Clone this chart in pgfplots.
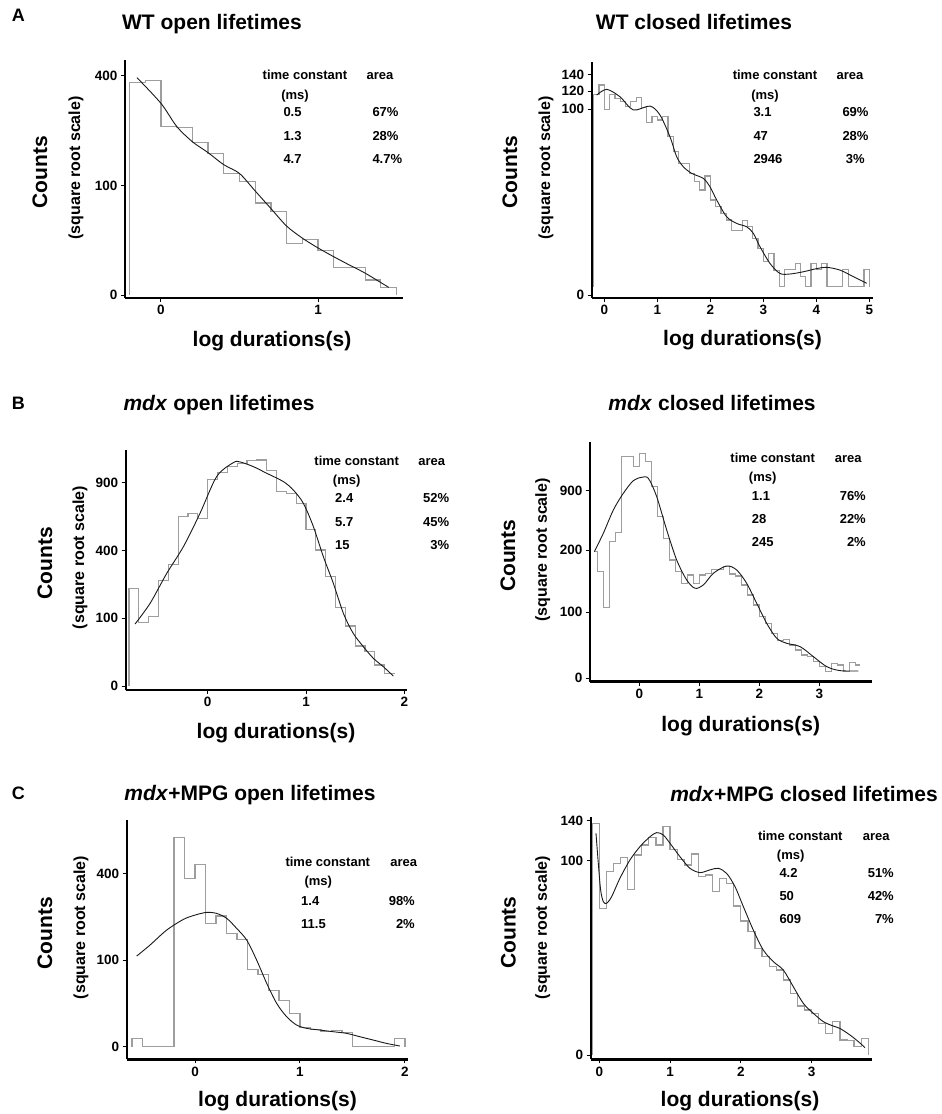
\documentclass[border=0pt]{standalone}
\usepackage{fontspec}
\setmainfont{Liberation Sans}
\usepackage{pgfplots}
\pgfplotsset{compat=1.18}

\pgfplotsset{
  panel/.style={
    scale only axis, anchor=south west, clip=false,
    axis lines*=left,
    axis line style={-, black},
    x axis line style={line width=2.8pt},
    y axis line style={line width=1.6pt},
    tick align=outside, major tick length=4pt,
    tick style={black, line width=1pt},
    tick label style={font=\fontsize{13.5}{15}\selectfont\bfseries},
    scaled ticks=false,
  },
  hist/.style={const plot, black!38, line width=1.2pt, no markers},
  fit/.style={smooth, black!90, line width=0.9pt, no markers},
}
\tikzset{
  ttl/.style={font=\fontsize{21}{25}\selectfont\bfseries, anchor=base, inner sep=0},
  lbl/.style={font=\fontsize{18}{22}\selectfont\bfseries, anchor=base west, inner sep=0},
  cnt/.style={font=\fontsize{21}{25}\selectfont\bfseries, rotate=90, inner sep=0},
  sq/.style={font=\fontsize{16}{19}\selectfont\bfseries, rotate=90, inner sep=0},
  tb/.style={font=\fontsize{13}{15}\selectfont\bfseries, inner sep=0},
}

\begin{document}
\begin{tikzpicture}
\path[use as bounding box] (0pt,0pt) rectangle (942pt,-1114pt);

% ---------- A: WT open
\begin{axis}[panel, at={(125pt,-298pt)}, width=278pt, height=238pt,
  xmin=-0.229, xmax=1.541, ymin=-0.27, ymax=21.46,
  xtick={0,1}, xticklabels={0,1},
  ytick={0,10,20}, yticklabels={0,100,400}]
\addplot[hist] coordinates {(-0.2,0) (-0.2,19.4) (-0.1,19.6) (0,15.4) (0.1,15.3)
  (0.2,13.9) (0.3,12.95) (0.4,11.1) (0.5,10.35) (0.6,8.4) (0.7,7.6) (0.8,4.7)
  (0.9,5.1) (1.0,4.1) (1.1,2.55) (1.2,2.55) (1.3,1.37) (1.4,0.7) (1.5,0.7) (1.5,0)};
\addplot[fit] coordinates {(-0.153,19.85) (0,17.5) (0.1,15.4) (0.2,14.0) (0.3,13.0)
  (0.4,11.9) (0.5,11.1) (0.6,9.5) (0.7,7.9) (0.8,6.3) (0.9,5.2) (1.0,4.3)
  (1.1,3.5) (1.2,2.74) (1.3,2.0) (1.45,0.7)};
\end{axis}

% ---------- A: WT closed
\begin{axis}[panel, at={(591.7pt,-298pt)}, width=281.3pt, height=236pt,
  xmin=-0.238, xmax=5.07, ymin=-0.16, ymax=12.53,
  xtick={0,1,2,3,4,5}, xticklabels={0,1,2,3,4,5},
  ytick={0,10,10.954,11.832}, yticklabels={0,100,120,140}]
\addplot[hist] coordinates {(-0.2,0.45) (-0.2,10.79) (-0.1,11.29) (0,9.98) (0.1,10.79)
  (0.2,10.57) (0.3,10.39) (0.4,10.13) (0.5,10.39) (0.6,10.63) (0.7,10.09) (0.8,9.27)
  (0.9,9.59) (1.0,9.41) (1.1,9.62) (1.2,8.51) (1.3,7.71) (1.4,7.08) (1.5,7.08)
  (1.6,6.54) (1.7,6.09) (1.8,5.65) (1.9,6.40) (2.0,5.11) (2.1,4.75) (2.2,4.39)
  (2.3,4.03) (2.4,3.49) (2.5,3.49) (2.6,4.0) (2.7,3.67) (2.8,3.05) (2.9,2.51)
  (3.0,1.79) (3.1,2.24) (3.2,1.34) (3.3,0.48) (3.4,1.38) (3.5,1.38) (3.6,1.70)
  (3.7,0.99) (3.8,0.45) (3.9,1.70) (4.0,1.38) (4.1,1.70) (4.2,0.48) (4.3,0.48)
  (4.4,0.48) (4.5,1.38) (4.6,0.48) (4.7,0.48) (4.8,0.48) (4.9,1.38) (5.0,1.38) (5.0,0.45)};
\addplot[fit] coordinates {(-0.145,10.75) (0.044,11.06) (0.296,10.66) (0.547,9.95)
  (0.862,10.16) (1.05,9.68) (1.239,8.51) (1.365,7.44) (1.49,6.90) (1.65,6.54)
  (1.868,6.27) (1.994,5.82) (2.12,5.11) (2.308,4.21) (2.497,3.85) (2.686,3.67)
  (2.811,3.32) (2.937,2.60) (3.126,1.70) (3.314,1.16) (3.503,1.13) (3.755,1.25)
  (4.006,1.42) (4.195,1.49) (4.447,1.34) (4.698,0.99) (4.95,0.63)};
\end{axis}

% ---------- B: mdx open
\begin{axis}[panel, at={(125.7pt,-690pt)}, width=281pt, height=240pt,
  xmin=-0.834, xmax=2.024, ymin=-0.59, ymax=34.8,
  xtick={0,1,2}, xticklabels={0,1,2},
  ytick={0,10,20,30}, yticklabels={0,100,400,900}]
\addplot[hist] coordinates {(-0.8,0) (-0.8,14.4) (-0.7,9.34) (-0.6,10.23) (-0.5,15.54)
  (-0.4,17.94) (-0.3,24.98) (-0.2,25.47) (-0.1,24.73) (0,30.48) (0.1,31.46)
  (0.2,32.35) (0.3,32.84) (0.4,33.24) (0.5,33.33) (0.6,31.76) (0.7,28.66)
  (0.8,28.42) (0.9,26.94) (1.0,23.11) (1.1,20.06) (1.2,16.13) (1.3,11.60)
  (1.4,8.85) (1.5,5.90) (1.6,5.06) (1.7,3.10) (1.8,1.87) (1.9,1.87)};
\addplot[fit] coordinates {(-0.739,9.14) (-0.586,12.19) (-0.417,16.6) (-0.247,20.55)
  (-0.078,25.47) (0.092,30.9) (0.261,32.94) (0.329,33.04) (0.464,32.35) (0.6,31.37)
  (0.77,30.14) (0.871,28.9) (0.973,26.94) (1.075,23.5) (1.176,19.08) (1.278,15.14)
  (1.38,10.72) (1.48,7.77) (1.583,5.80) (1.685,4.08) (1.786,2.85) (1.888,1.47)};
\end{axis}

% ---------- B: mdx closed
\begin{axis}[panel, at={(590pt,-681.7pt)}, width=281.7pt, height=240pt,
  xmin=-0.822, xmax=3.872, ymin=-0.52, ymax=35.85,
  xtick={0,1,2,3}, xticklabels={0,1,2,3},
  ytick={0,10,19.39,28.43}, yticklabels={0,100,200,900}]
\addplot[hist] coordinates {(-0.75,19.2) (-0.7,16.16) (-0.6,10.76) (-0.5,20.71)
  (-0.4,22.07) (-0.3,33.59) (-0.2,33.59) (-0.1,32.07) (0,34.09) (0.1,32.83)
  (0.2,29.04) (0.3,24.49) (0.4,21.21) (0.5,17.93) (0.6,16.16) (0.7,14.39)
  (0.8,15.66) (0.9,14.39) (1.0,15.66) (1.1,15.91) (1.2,16.52) (1.3,16.52)
  (1.4,16.92) (1.5,15.81) (1.6,15.5) (1.7,14.14) (1.8,12.63) (1.9,11.11)
  (2.0,9.34) (2.1,8.33) (2.2,6.82) (2.3,5.71) (2.4,5.91) (2.5,5.05) (2.6,4.29)
  (2.7,3.54) (2.8,3.28) (2.9,2.53) (3.0,1.77) (3.1,1.01) (3.2,2.27) (3.3,2.02)
  (3.4,1.01) (3.5,2.37) (3.6,2.02) (3.68,2.02)};
\addplot[fit] coordinates {(-0.75,19.19) (-0.6,21.97) (-0.433,25.5) (-0.267,28.03)
  (-0.1,29.95) (0.039,30.45) (0.15,30.3) (0.289,27.53) (0.456,22.47) (0.622,17.93)
  (0.789,14.9) (0.928,13.64) (1.067,14.14) (1.233,15.91) (1.456,17.02) (1.622,16.41)
  (1.789,14.39) (1.956,11.36) (2.122,8.33) (2.289,6.06) (2.456,5.3) (2.678,4.8)
  (2.9,3.28) (3.122,1.77) (3.344,1.16) (3.65,1.11)};
\end{axis}

% ---------- C: mdx+MPG open
\begin{axis}[panel, at={(126.7pt,-1059.3pt)}, width=281.6pt, height=239.3pt,
  xmin=-0.651, xmax=2.032, ymin=-1.454, ymax=26.16,
  xtick={0,1,2}, xticklabels={0,1,2},
  ytick={0,10,20}, yticklabels={0,100,400}]
\addplot[hist] coordinates {(-0.6,0) (-0.6,0.96) (-0.5,0) (-0.2,24.15) (-0.1,19.42)
  (0,21.04) (0.1,14.23) (0.2,15.08) (0.3,13.08) (0.4,12.38) (0.5,8.92) (0.6,8.35)
  (0.7,6.46) (0.8,5.31) (0.9,3.85) (1.0,2.23) (1.1,2.0) (1.2,1.73) (1.3,1.85)
  (1.4,1.62) (1.5,0) (1.9,0.96) (2.0,0.96) (2.0,0)};
\addplot[fit] coordinates {(-0.556,10.46) (-0.429,11.73) (-0.27,13.46) (-0.111,14.69)
  (0,15.19) (0.111,15.5) (0.206,15.38) (0.302,14.81) (0.397,13.65) (0.492,12.31)
  (0.587,10.0) (0.683,7.31) (0.778,5.0) (0.873,3.46) (0.968,2.5) (1.063,2.12)
  (1.19,1.92) (1.317,1.73) (1.444,1.54) (1.571,1.15) (1.698,0.77) (1.825,0.38) (1.952,0.08)};
\end{axis}

% ---------- C: mdx+MPG closed
\begin{axis}[panel, at={(590.7pt,-1059.3pt)}, width=281pt, height=242.6pt,
  xmin=-0.1215, xmax=3.849, ymin=-0.222, ymax=12.28,
  xtick={0,1,2,3}, xticklabels={0,1,2,3},
  ytick={0,10,12.06}, yticklabels={0,100,140}]
\addplot[hist] coordinates {(-0.1,0) (-0.1,11.91) (0,7.56) (0.1,9.45) (0.2,9.88)
  (0.3,10.19) (0.4,8.54) (0.5,10.31) (0.6,10.82) (0.7,11.22) (0.8,10.82) (0.9,11.77)
  (1.0,10.57) (1.1,10.09) (1.2,9.79) (1.3,10.36) (1.4,9.19) (1.5,9.28) (1.6,8.42)
  (1.7,9.11) (1.8,8.85) (1.9,7.68) (2.0,6.91) (2.1,6.36) (2.2,5.5) (2.3,5.07)
  (2.4,4.55) (2.5,4.38) (2.6,3.87) (2.7,3.18) (2.8,2.53) (2.9,2.32) (3.0,2.15)
  (3.1,1.63) (3.2,1.12) (3.3,1.72) (3.4,0.77) (3.5,0.74) (3.6,0.43) (3.7,0.86)
  (3.8,0.86) (3.8,0)};
\addplot[fit] coordinates {(-0.047,11.43) (-0.014,9.88) (0.019,8.5) (0.057,7.9)
  (0.104,7.82) (0.174,8.16) (0.292,9.11) (0.433,10.05) (0.575,10.74) (0.716,11.25)
  (0.81,11.46) (0.904,11.34) (0.999,10.91) (1.14,10.22) (1.281,9.62) (1.423,9.4)
  (1.564,9.54) (1.682,9.62) (1.799,9.36) (1.917,8.68) (2.035,7.65) (2.176,6.44)
  (2.317,5.41) (2.459,4.81) (2.6,4.38) (2.741,3.52) (2.883,2.66) (3.024,2.15)
  (3.165,1.72) (3.307,1.49) (3.4,1.37) (3.542,1.03) (3.66,0.69) (3.754,0.38)};
\end{axis}

% ---------- panel letters and titles
\node[lbl] at (11.7pt,-21.7pt) {A};
\node[lbl] at (11.7pt,-409pt) {B};
\node[lbl] at (11.7pt,-799.3pt) {C};
\node[ttl] at (212pt,-29pt) {WT open lifetimes};
\node[ttl] at (694pt,-29pt) {WT closed lifetimes};
\node[ttl] at (219pt,-410.7pt) {\textit{mdx} open lifetimes};
\node[ttl] at (712pt,-410.7pt) {\textit{mdx} closed lifetimes};
\node[ttl] at (250pt,-800.7pt) {\textit{mdx}+MPG open lifetimes};
\node[ttl] at (804pt,-801pt) {\textit{mdx}+MPG closed lifetimes};

% ---------- axis labels
\node[ttl] at (272pt,-346.3pt) {log durations(s)};
\node[ttl] at (742.5pt,-345.3pt) {log durations(s)};
\node[ttl] at (276pt,-738pt) {log durations(s)};
\node[ttl] at (740.7pt,-731.3pt) {log durations(s)};
\node[ttl] at (277.5pt,-1106.7pt) {log durations(s)};
\node[ttl] at (740pt,-1106.7pt) {log durations(s)};

\node[cnt] at (40pt,-172pt) {Counts};
\node[sq] at (76pt,-168pt) {(square root scale)};
\node[cnt] at (510pt,-172pt) {Counts};
\node[sq] at (546pt,-168pt) {(square root scale)};
\node[cnt] at (45pt,-563pt) {Counts};
\node[sq] at (80pt,-557.5pt) {(square root scale)};
\node[cnt] at (508pt,-555.8pt) {Counts};
\node[sq] at (542.7pt,-550pt) {(square root scale)};
\node[cnt] at (45pt,-933.3pt) {Counts};
\node[sq] at (81pt,-927.5pt) {(square root scale)};
\node[cnt] at (508.3pt,-932.5pt) {Counts};
\node[sq] at (542.7pt,-927.5pt) {(square root scale)};

% ---------- fit tables
% A open
\node[tb, anchor=base] at (305pt,-79.5pt) {time constant};
\node[tb, anchor=base] at (380pt,-79.5pt) {area};
\node[tb, anchor=base] at (295pt,-99pt) {(ms)};
\node[tb, anchor=base west] at (283.3pt,-116.5pt) {0.5};
\node[tb, anchor=base west] at (283.3pt,-140pt) {1.3};
\node[tb, anchor=base west] at (283.3pt,-163.5pt) {4.7};
\node[tb, anchor=base west] at (372.3pt,-116.5pt) {67\%};
\node[tb, anchor=base west] at (372.3pt,-140pt) {28\%};
\node[tb, anchor=base west] at (372.3pt,-163.5pt) {4.7\%};
% A closed
\node[tb, anchor=base] at (775pt,-79.5pt) {time constant};
\node[tb, anchor=base] at (850pt,-79.5pt) {area};
\node[tb, anchor=base] at (765pt,-99pt) {(ms)};
\node[tb, anchor=base west] at (753.3pt,-116.5pt) {3.1};
\node[tb, anchor=base west] at (753.3pt,-140pt) {47};
\node[tb, anchor=base west] at (753.3pt,-163.5pt) {2946};
\node[tb, anchor=base west] at (842.3pt,-116.5pt) {69\%};
\node[tb, anchor=base west] at (842.3pt,-140pt) {28\%};
\node[tb, anchor=base west] at (845.7pt,-163.5pt) {3\%};
% B open
\node[tb, anchor=base] at (356.7pt,-465.2pt) {time constant};
\node[tb, anchor=base] at (431.7pt,-465.2pt) {area};
\node[tb, anchor=base] at (346.7pt,-484.5pt) {(ms)};
\node[tb, anchor=base west] at (335pt,-502.8pt) {2.4};
\node[tb, anchor=base west] at (335pt,-526.2pt) {5.7};
\node[tb, anchor=base west] at (335pt,-549.5pt) {15};
\node[tb, anchor=base east] at (449.3pt,-502.8pt) {52\%};
\node[tb, anchor=base east] at (449.3pt,-526.2pt) {45\%};
\node[tb, anchor=base east] at (449.3pt,-549.5pt) {3\%};
% B closed
\node[tb, anchor=base] at (772.7pt,-462.8pt) {time constant};
\node[tb, anchor=base] at (848.3pt,-462.8pt) {area};
\node[tb, anchor=base] at (762.7pt,-481.8pt) {(ms)};
\node[tb, anchor=base west] at (751.7pt,-500.2pt) {1.1};
\node[tb, anchor=base west] at (751.7pt,-523.5pt) {28};
\node[tb, anchor=base west] at (751.7pt,-546.8pt) {245};
\node[tb, anchor=base east] at (866pt,-500.2pt) {76\%};
\node[tb, anchor=base east] at (866pt,-523.5pt) {22\%};
\node[tb, anchor=base east] at (866pt,-546.8pt) {2\%};
% C open
\node[tb, anchor=base] at (327.8pt,-866.2pt) {time constant};
\node[tb, anchor=base] at (403.7pt,-866.2pt) {area};
\node[tb, anchor=base] at (318.3pt,-885.5pt) {(ms)};
\node[tb, anchor=base west] at (301pt,-905.5pt) {1.4};
\node[tb, anchor=base west] at (301pt,-928.5pt) {11.5};
\node[tb, anchor=base east] at (415pt,-905.5pt) {98\%};
\node[tb, anchor=base east] at (415pt,-928.5pt) {2\%};
% C closed
\node[tb, anchor=base] at (800.3pt,-840.5pt) {time constant};
\node[tb, anchor=base] at (876.3pt,-840.5pt) {area};
\node[tb, anchor=base] at (790.7pt,-859.5pt) {(ms)};
\node[tb, anchor=base west] at (779.3pt,-877.2pt) {4.2};
\node[tb, anchor=base west] at (779.3pt,-900.5pt) {50};
\node[tb, anchor=base west] at (779.3pt,-923.8pt) {609};
\node[tb, anchor=base east] at (894pt,-877.2pt) {51\%};
\node[tb, anchor=base east] at (894pt,-900.5pt) {42\%};
\node[tb, anchor=base east] at (894pt,-923.8pt) {7\%};
\end{tikzpicture}
\end{document}
